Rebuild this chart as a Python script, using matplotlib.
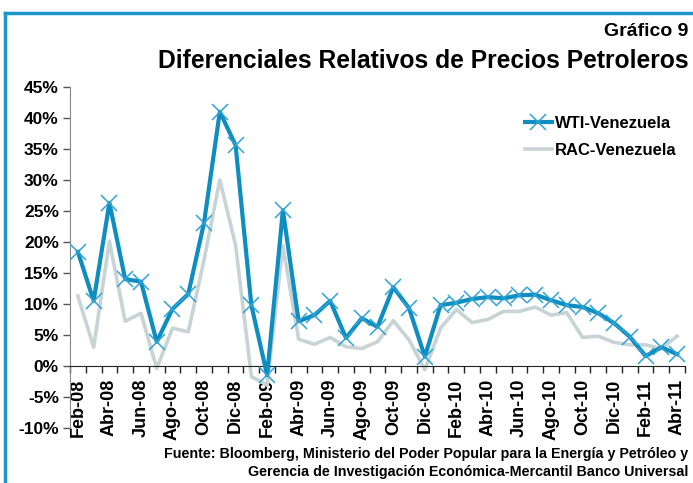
import matplotlib
matplotlib.use("Agg")
import matplotlib.pyplot as plt
from matplotlib.lines import Line2D
from matplotlib.ticker import FuncFormatter, FixedLocator

plt.rcParams["font.family"] = ["Liberation Sans", "DejaVu Sans"]
plt.rcParams["font.weight"] = "bold"

# ── data ──────────────────────────────────────────────────────────────────
months = ["Feb-08", "Mar-08", "Abr-08", "May-08", "Jun-08", "Jul-08", "Ago-08",
          "Sep-08", "Oct-08", "Nov-08", "Dic-08", "Ene-09", "Feb-09", "Mar-09",
          "Abr-09", "May-09", "Jun-09", "Jul-09", "Ago-09", "Sep-09", "Oct-09",
          "Nov-09", "Dic-09", "Ene-10", "Feb-10", "Mar-10", "Abr-10", "May-10",
          "Jun-10", "Jul-10", "Ago-10", "Sep-10", "Oct-10", "Nov-10", "Dic-10",
          "Ene-11", "Feb-11", "Mar-11", "Abr-11"]
wti_ven = [18.4, 10.5, 26.3, 14.0, 13.6, 3.9, 9.2, 11.6, 23.1, 41.0, 35.6, 9.8,
           -1.5, 25.1, 7.2, 8.2, 10.5, 4.5, 7.7, 6.3, 12.7, 9.3, 1.5, 9.8, 10.2,
           10.8, 11.1, 10.9, 11.4, 11.5, 10.6, 9.8, 9.5, 8.5, 6.9, 4.7, 1.6, 3.0,
           1.9]
rac_ven = [11.3, 3.0, 20.1, 7.2, 8.5, -0.4, 6.1, 5.5, 17.1, 30.0, 19.5, -1.7,
           -3.1, 19.4, 4.3, 3.5, 4.6, 3.1, 2.8, 3.9, 7.3, 4.2, -0.6, 6.1, 9.1,
           7.0, 7.5, 8.8, 8.8, 9.5, 8.2, 8.6, 4.6, 4.8, 3.8, 3.4, 3.4, 2.8, 4.8]
y_ticks = [-10, -5, 0, 5, 10, 15, 20, 25, 30, 35, 40, 45]

BLUE = "#0e8dc0"
MARK = "#2fa3d6"
GRAY = "#c7d3d5"
FRAME = "#1a96cf"

fig = plt.figure(figsize=(6.93, 4.83), dpi=100)
ax = fig.add_axes([0.101, 0.114, 0.8875, 0.706])

x = list(range(len(months)))
ax.plot(x, rac_ven, color=GRAY, lw=2.6, label="RAC-Venezuela", zorder=2)
ax.plot(x, wti_ven, color=BLUE, lw=3.0, marker="x", ms=11, mew=1.1,
        mec=MARK, label="WTI-Venezuela", zorder=3)

ax.set_xlim(-0.5, len(months) - 0.5)
ax.set_ylim(-10, 45)
ax.set_yticks(y_ticks)
ax.yaxis.set_major_formatter(FuncFormatter(lambda v, p: f"{v:.0f}%"))
ax.tick_params(axis="y", direction="out", length=5, width=1, labelsize=12.5,
               pad=3, color="#555555")

# x axis sits at zero; tick marks between categories, labels every 2 months
ax.spines["bottom"].set_position(("data", 0))
ax.spines["top"].set_visible(False)
ax.spines["right"].set_visible(False)
ax.spines["left"].set_color("#888888")
ax.spines["bottom"].set_color("#222222")
ax.xaxis.set_major_locator(FixedLocator([i - 0.5 for i in range(len(months) + 1)]))
ax.xaxis.set_major_formatter(FuncFormatter(lambda v, p: ""))
ax.xaxis.set_minor_locator(FixedLocator(x[::2]))
ax.set_xticklabels(months[::2], minor=True, rotation=90, fontsize=13,
                   fontweight="bold", va="top", ha="center")
ax.tick_params(axis="x", which="major", direction="out", length=5, width=1,
               color="#222222")
ax.tick_params(axis="x", which="minor", length=0, pad=9)
for lab in ax.get_yticklabels():
    lab.set_fontweight("bold")

leg = ax.legend(handles=[ax.lines[1], ax.lines[0]], loc="upper left",
                bbox_to_anchor=(525 / 693, 0.760), bbox_transform=fig.transFigure,
                frameon=False, fontsize=12, handlelength=1.6,
                handletextpad=0.2, labelspacing=0.7, borderpad=0,
                borderaxespad=0)
for t in leg.get_texts():
    t.set_fontweight("bold")

fig.text(0.993, 0.934, "Gráfico 9", ha="right", va="center", fontsize=14,
         fontweight="bold")
fig.text(0.993, 0.874, "Diferenciales Relativos de Precios Petroleros",
         ha="right", va="center", fontsize=17.7, fontweight="bold")
fig.text(0.993, 0.061, "Fuente: Bloomberg, Ministerio del Poder Popular para la Energía y Petróleo y",
         ha="right", va="center", fontsize=10.3, fontweight="bold")
fig.text(0.993, 0.023, "Gerencia de Investigación Económica-Mercantil Banco Universal",
         ha="right", va="center", fontsize=10.3, fontweight="bold")

# frame: top and left blue rules
fig.add_artist(Line2D([5 / 693, 1.0], [1 - 13 / 483, 1 - 13 / 483],
                      transform=fig.transFigure, color=FRAME, lw=2.5))
fig.add_artist(Line2D([5 / 693, 5 / 693], [0.0, 1 - 13 / 483],
                      transform=fig.transFigure, color=FRAME, lw=2.5))

fig.savefig("out.png", dpi=100)
